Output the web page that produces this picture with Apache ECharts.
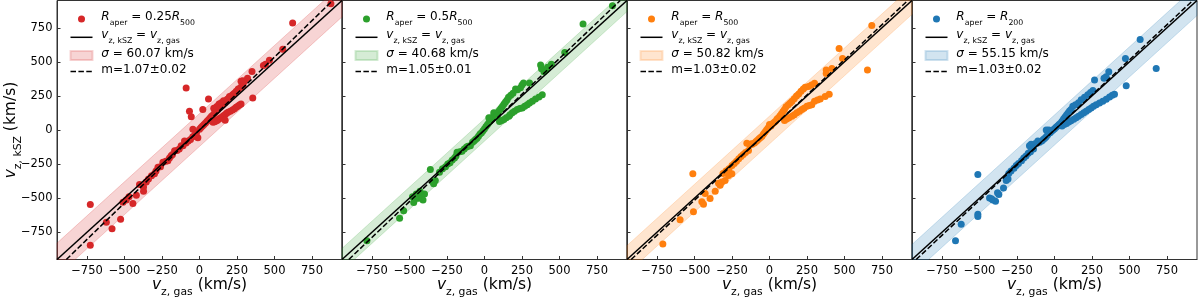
<!DOCTYPE html>
<html><head><meta charset="utf-8">
<script src="https://cdn.jsdelivr.net/npm/echarts@6/dist/echarts.min.js"></script>
<style>html,body{margin:0;padding:0;background:#fff}#c{width:1200px;height:300px}</style>
</head><body><div id="c"></div>
<script>
// ---- data ----
const ptsR025 = [
[876,927],[621,785],[555,592],[466,512],[440,482],[426,473],[350,430],[355,234],[320,380],[300,357],[288,362],[277,357],[290,330],[275,314],[258,300],[245,285],[232,270],[220,258],[208,246],[195,232],[182,216],[170,200],[158,188],[146,176],[134,165],[122,150],[112,138],[100,122],[90,110],[80,100],[70,88],[60,76],[50,64],[40,52],[30,40],[20,30],[10,18],[0,6],
[95,160],[115,172],[130,190],[145,200],[160,215],[185,225],[200,245],
[277,191],[266,184],[255,174],[244,166],[233,156],[220,146],[205,138],[190,130],[180,122],[170,112],[160,104],[150,96],[140,88],[130,80],[120,72],[110,66],[100,60],[90,56],[171,72],
[60,227],[22,150],[-89,309],[-67,138],[-55,97],[-44,5],[-11,-56],[-20,-20],[-30,-35],[-45,-50],[-60,-70],[-75,-80],[-90,-95],[-100,-80],[-110,-115],[-122,-116],[-135,-140],[-150,-150],[-166,-152],[-180,-180],[-189,-188],[-200,-205],[-211,-225],[-225,-230],[-244,-237],[-260,-270],[-277,-273],[-290,-300],[-300,-321],[-320,-335],[-340,-360],[-355,-382],[-373,-418],[-373,-449],[-400,-400],[-421,-478],[-444,-539],[-488,-514],[-470,-490],[-510,-530],[-526,-655],[-583,-725],[-621,-676],[-728,-546],[-728,-845]];
const ptsR05 = [
[853,911],[657,778],[535,568],[446,483],[374,476],[396,428],[410,440],[380,450],[420,460],[260,345],[300,345],[250,330],[207,300],[220,295],[240,310],[190,270],[175,255],[160,240],[150,220],[140,205],[130,190],[120,175],[110,160],[100,145],[90,130],[80,120],[70,110],[60,100],[50,85],[40,70],[30,55],[20,40],[10,25],[0,10],[-10,-5],[-20,-20],[-30,-30],[-40,-45],[-50,-60],[-60,-70],[-70,-80],[-80,-90],[-94,-116],[-110,-120],[-120,-125],[-135,-140],[-150,-155],[-165,-160],[-183,-164],[-190,-190],[-200,-205],[-215,-220],[-230,-240],[-245,-250],[-260,-270],[-280,-285],[-300,-310],[-361,-290],[-328,-370],[-339,-394],[-345,-380],[-400,-470],[-417,-483],[-410,-514],[-430,-450],[-440,-500],[-455,-470],[-461,-502],[-472,-531],[-480,-490],[-539,-592],[-566,-647],[-784,-812],
[385,258],[363,242],[340,228],[319,210],[300,198],[285,186],[268,175],[252,162],[235,157],[218,150],[200,138],[185,126],[170,112],[163,101],[145,90],[129,77],[115,70],[100,62],[62,126],[29,89],[85,101]];
const ptsR500 = [
[682,766],[653,440],[464,597],[487,524],[416,452],[378,440],[378,415],[398,263],[371,246],[338,227],[320,220],[300,210],[282,186],[265,180],[249,174],[230,160],[216,150],[200,138],[182,126],[165,112],[149,101],[130,90],[115,80],[100,70],
[300,343],[280,330],[260,320],[238,314],[225,300],[210,285],[195,265],[180,250],[165,230],[150,210],[138,198],[125,185],[110,170],[100,150],[90,135],[80,120],[70,105],[60,90],[50,80],[40,65],[30,55],[20,45],[10,30],[0,41],[-10,15],[-20,0],[-30,-15],[-40,-30],[-50,-45],[-60,-55],[-70,-65],[-80,-75],[-90,-85],[-100,-95],[-115,-105],[-130,-110],[-151,-97],[-120,-100],[-140,-150],[-160,-165],[-175,-180],[-190,-195],[-205,-210],[-220,-230],[-235,-245],[-251,-321],[-273,-333],[-296,-370],[-318,-382],[-250,-260],[-270,-285],[-290,-300],[-310,-320],[-329,-406],[-340,-390],[-362,-449],[-396,-502],[-429,-466],[-451,-527],[-440,-545],[-511,-321],[-507,-599],[-596,-659],[-711,-836]];
const ptsR200 = [
[571,664],[678,452],[473,524],[478,324],[362,428],[344,391],[330,380],[267,367],[256,290],[240,275],[222,258],[200,240],[178,222],[160,200],[140,185],[122,174],[110,150],[100,140],[90,125],[80,110],[70,95],[60,80],[50,65],[40,50],[30,40],[20,30],[10,20],[0,10],[-10,0],[-38,0],[-55,0],[-20,-10],[-30,-20],[-45,-35],[-55,-50],[-65,-60],[-75,-70],[-85,-80],[-100,-90],[-111,-80],[-115,-95],[-130,-100],[-156,-104],[-167,-116],[-140,-140],[-160,-160],[-175,-170],[-190,-190],[-205,-205],[-220,-225],[-240,-245],[-255,-260],[-270,-280],[-290,-300],[-305,-320],[-322,-370],[-310,-360],[-340,-425],[-371,-473],[-380,-460],[-433,-498],[-411,-514],[-393,-522],[-420,-505],[-511,-326],[-511,-618],[-511,-635],[-622,-691],[-660,-812],
[400,263],[385,255],[367,242],[345,226],[322,210],[300,198],[278,186],[260,175],[244,162],[228,150],[211,138],[195,126],[178,114],[160,100],[144,89],[128,78],[110,68],[95,58],[80,48],[65,40],[50,30]];
const panelPoints = [ptsR025, ptsR05, ptsR500, ptsR200];
const apertureCoef = ['0.25', '0.5', '', ''];
const apertureRef = ['500', '500', '500', '200'];
const sigmas = [60.07, 40.68, 50.82, 55.15];
const slopes = [1.07, 1.05, 1.03, 1.03];
const slopeErrs = [0.02, 0.01, 0.02, 0.02];
const colors = ['#d62728', '#2ca02c', '#ff7f0e', '#1f77b4'];
const bandFills = ['rgba(214,39,40,0.2)', 'rgba(44,160,44,0.2)', 'rgba(255,127,14,0.2)', 'rgba(31,119,180,0.2)'];
const tickValues = [-750, -500, -250, 0, 250, 500, 750];
const axisRange = [-950, 950];

// ---- layout ----
const gridLefts = [57, 342, 627, 912];
const gridW = 285, gridTop = 0.5, gridH = 259;
const FONT = 'DejaVu Sans';
const spine = '#333';
const LF = 12;     // legend font
const LS = 7.8;    // legend subscript
const AF = 15.5;   // axis-name font
const AS = 10.8;   // axis-name subscript
const TF = 11.5;   // tick font

const fmtTick = v => (v < 0 ? '\u2212' + Math.abs(v) : String(v));

const legendRich = {
  it: { fontFamily: FONT, fontStyle: 'italic', fontSize: LF, lineHeight: 16, verticalAlign: 'top', color: '#000' },
  n: { fontFamily: FONT, fontSize: LF, lineHeight: 16, verticalAlign: 'top', color: '#000' },
  sub: { fontFamily: FONT, fontSize: LS, lineHeight: 8.5, verticalAlign: 'bottom', color: '#000' }
};
const axisRich = {
  it: { fontFamily: FONT, fontStyle: 'italic', fontSize: AF, lineHeight: 21, verticalAlign: 'top', color: '#000' },
  n: { fontFamily: FONT, fontSize: AF, lineHeight: 21, verticalAlign: 'top', color: '#000' },
  sub: { fontFamily: FONT, fontSize: AS, lineHeight: 11, verticalAlign: 'bottom', color: '#000' }
};
const markerIcon = 'path://M0,0M9,9M8,4.5A3.5,3.5,0,1,1,1,4.5A3.5,3.5,0,1,1,8,4.5Z';
const solidIcon = 'path://M0,0M22,9M0,3.75h22v1.5h-22z';
const dashIcon = 'path://M0,0M22,9M0,3.75h5.5v1.5h-5.5zM7.9,3.75h5.5v1.5h-5.5zM15.8,3.75h5.5v1.5h-5.5z';

const labelMap = {};
const grids = [], xAxes = [], yAxes = [], series = [], legends = [];
for (let i = 0; i < 4; i++) {
  labelMap['m' + i] = '{n| }{it|R}{sub|aper}{n| = ' + apertureCoef[i] + '}{it|R}{sub|' + apertureRef[i] + '}';
  labelMap['l' + i] = '{n| }{it|v}{sub|z, kSZ}{n| = }{it|v}{sub|z, gas}';
  labelMap['b' + i] = '{n| }{it|\u03c3}{n| = ' + sigmas[i].toFixed(2) + ' km/s}';
  labelMap['d' + i] = '{n| m=' + slopes[i].toFixed(2) + '\u00b1' + slopeErrs[i].toFixed(2) + '}';

  grids.push({ left: gridLefts[i], top: gridTop, width: gridW, height: gridH, outerBoundsMode: 'none', containLabel: false,
    show: true, borderColor: spine, borderWidth: 1, backgroundColor: 'transparent' });
  xAxes.push({
    gridIndex: i, type: 'value', min: axisRange[0], max: axisRange[1],
    axisLine: { show: true, onZero: false, lineStyle: { color: spine, width: 1 } },
    axisTick: { show: true, inside: true, length: 3.5, lineStyle: { color: spine }, customValues: tickValues },
    axisLabel: { show: true, margin: 5.5, fontFamily: FONT, fontSize: TF, color: '#000', formatter: fmtTick,
      customValues: tickValues, hideOverlap: false, showMinLabel: true, showMaxLabel: true },
    splitLine: { show: false },
    name: '{it|v}{sub|z, gas}{n| (km/s)}', nameLocation: 'middle', nameGap: 17, nameMoveOverlap: false,
    nameTextStyle: { rich: axisRich }
  });
  yAxes.push({
    gridIndex: i, type: 'value', min: axisRange[0], max: axisRange[1],
    axisLine: { show: true, onZero: false, lineStyle: { color: spine, width: 1 } },
    axisTick: { show: true, inside: true, length: 3.5, lineStyle: { color: spine }, customValues: tickValues },
    axisLabel: { show: i === 0, margin: 4.5, fontFamily: FONT, fontSize: TF, color: '#000', formatter: fmtTick,
      customValues: tickValues, hideOverlap: false, showMinLabel: true, showMaxLabel: true },
    splitLine: { show: false },
    name: i === 0 ? '{it|v}{sub|z, kSZ}{n| (km/s)}' : '', nameLocation: 'middle', nameGap: 33, nameMoveOverlap: false,
    nameTextStyle: { rich: axisRich }
  });

  const s2 = 2 * sigmas[i];
  const lo = axisRange[0], hi = axisRange[1];
  // band |y - x| <= 2σ, clipped to the plotting square (data units)
  const bandPoly = [[lo + s2, lo], [hi, hi - s2], [hi, hi], [hi - s2, hi], [lo, lo + s2], [lo, lo]];
  series.push({
    name: 'b' + i, type: 'custom', xAxisIndex: i, yAxisIndex: i, z: 1,
    itemStyle: { color: bandFills[i], borderColor: bandFills[i], borderWidth: 1 },
    data: [[0, 0]],
    renderItem: (params, api) => ({
      type: 'polygon',
      shape: { points: bandPoly.map(p => api.coord(p)) },
      style: { fill: bandFills[i], stroke: bandFills[i], lineWidth: 1 }
    })
  });
  series.push({
    name: 'm' + i, type: 'scatter', xAxisIndex: i, yAxisIndex: i, z: 2,
    symbol: 'circle', symbolSize: 7, itemStyle: { color: colors[i], opacity: 1 },
    data: panelPoints[i]
  });
  series.push({
    name: 'l' + i, type: 'line', xAxisIndex: i, yAxisIndex: i, z: 3, symbol: 'none',
    lineStyle: { color: '#000', width: 1.5 }, itemStyle: { color: '#000' },
    data: [[lo, lo], [hi, hi]]
  });
  series.push({
    name: 'd' + i, type: 'line', xAxisIndex: i, yAxisIndex: i, z: 3, symbol: 'none',
    lineStyle: { color: '#000', width: 1.5, type: [5.5, 2.4] }, itemStyle: { color: '#000' },
    data: [[lo / slopes[i], lo], [hi / slopes[i], hi]]
  });

  legends.push({
    orient: 'vertical', left: gridLefts[i] + 12.5, top: 11, padding: 0,
    itemWidth: 22, itemHeight: 9, itemGap: 2.3, selectedMode: false,
    textStyle: { fontFamily: FONT, fontSize: LF, color: '#000', rich: legendRich },
    formatter: name => labelMap[name],
    data: [
      { name: 'm' + i, icon: markerIcon, itemStyle: { color: colors[i] } },
      { name: 'l' + i, icon: solidIcon, itemStyle: { color: '#000' } },
      { name: 'b' + i, icon: 'rect' },
      { name: 'd' + i, icon: dashIcon, itemStyle: { color: '#000' } }
    ]
  });
}

const chart = echarts.init(document.getElementById('c'), null, { renderer: 'canvas' });
chart.setOption({
  animation: false,
  backgroundColor: '#fff',
  grid: grids, xAxis: xAxes, yAxis: yAxes, legend: legends, series: series
});
</script></body></html>
